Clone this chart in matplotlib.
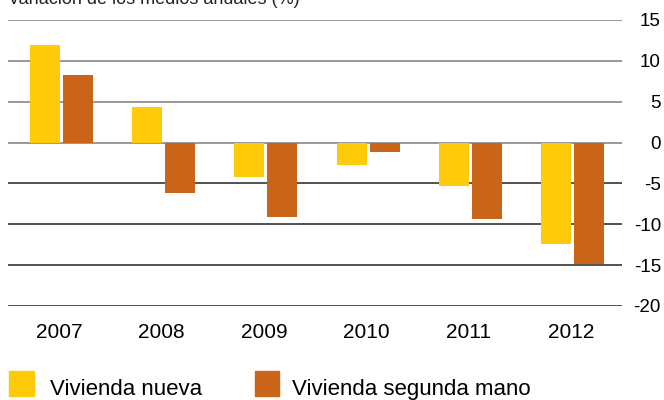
import matplotlib.pyplot as plt
import numpy as np

plt.rcParams['font.family'] = ['Liberation Sans', 'DejaVu Sans']

years = ['2007', '2008', '2009', '2010', '2011', '2012']
nueva = [12.0, 4.3, -4.2, -2.8, -5.3, -12.4]
segunda_mano = [8.3, -6.2, -9.1, -1.2, -9.4, -14.8]
yticks = [15, 10, 5, 0, -5, -10, -15, -20]

yellow = '#FECA0A'
orange = '#C96418'

fig = plt.figure(figsize=(6.64, 4.0), dpi=100)
ax = fig.add_axes([8 / 664, (400 - 306) / 400, 614 / 664, 286 / 400])

x = np.arange(len(years))
w = 0.293
off = 0.161
shift = 0.02
ax.bar(x - off + shift, nueva, w, color=yellow, zorder=3)
ax.bar(x + off + shift, segunda_mano, w, color=orange, zorder=3)

for v in yticks:
    ax.axhline(v, color='#888888' if v >= 0 else '#333333', lw=1.2, zorder=2)

ax.set_xlim(-0.5, len(years) - 0.5)
ax.set_ylim(-20, 15)
for s in ax.spines.values():
    s.set_visible(False)

ax.set_xticks(x)
ax.set_xticklabels(years, fontsize=15)
ax.tick_params(axis='x', length=0, pad=12)

ax.yaxis.tick_right()
ax.set_yticks(yticks)
ax.set_yticklabels([str(v) for v in yticks], fontsize=13.5, ha='right')
ax.tick_params(axis='y', length=0, pad=28)

fig.text(8 / 664, 1 - 4 / 400, 'Variación de los medios anuales (%)',
         fontsize=13, va='baseline', ha='left', color='#222222')

# legend drawn by hand below the axis
fig.patches.append(plt.Rectangle((9 / 664, 4 / 400), 25 / 664, 25 / 400,
                                 transform=fig.transFigure, color=yellow))
fig.text(50 / 664, 5 / 400, 'Vivienda nueva', fontsize=16, va='baseline')
fig.patches.append(plt.Rectangle((255 / 664, 4 / 400), 24 / 664, 25 / 400,
                                 transform=fig.transFigure, color=orange))
fig.text(292 / 664, 5 / 400, 'Vivienda segunda mano', fontsize=16, va='baseline')

fig.savefig('out.png', dpi=100)
